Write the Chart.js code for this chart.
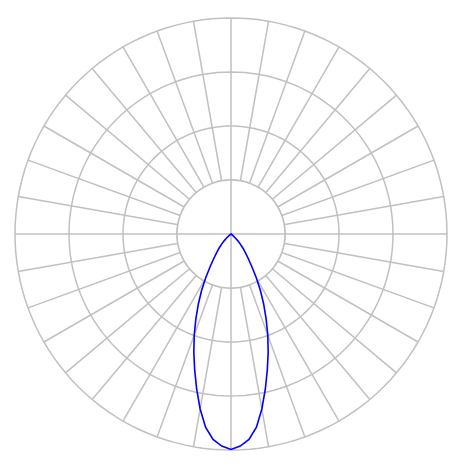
<!DOCTYPE html>
<html>
<head>
<meta charset="utf-8">
<script src="https://cdn.jsdelivr.net/npm/chart.js@4/dist/chart.umd.min.js"></script>
<style>
  html, body { margin: 0; padding: 0; background: #fff; }
  #wrap { width: 465px; height: 465px; }
</style>
</head>
<body>
<div id="wrap"><canvas id="ldc" width="465" height="465"></canvas></div>
<script>
// gamma angle, 0 = straight down, step 2.5 deg
var gamma = [0, 2.5, 5, 7.5, 10, 12.5, 15, 17.5, 20, 22.5, 25, 27.5, 30, 32.5, 35, 37.5, 40, 42.5, 45,
             47.5, 50, 52.5, 55, 57.5, 60, 62.5, 65, 67.5, 70, 72.5, 75, 77.5, 80, 82.5, 85, 87.5, 90];
// intensity (cd/klm)
var intensity = [399, 393, 382, 361, 329, 294, 260, 229, 199, 170, 143, 118, 94, 72, 56, 44, 35, 26, 18,
                 11, 6, 2, 0, 0, 0, 0, 0, 0, 0, 0, 0, 0, 0, 0, 0, 0, 0];
// ring values
var rings = [100, 200, 300, 400];

var step = 2.5;
var labels = [];
var curve = [];
var inner = [];
var cross = [];
for (var i = 0; i < 360 / step; i++) {
    var phi = i * step;              // clockwise from top
    var g = Math.abs(180 - phi);     // angle away from nadir
    var k = gamma.indexOf(g);
    labels.push(phi + '°');
    curve.push(k >= 0 ? intensity[k] : 0);
    inner.push(rings[0]);
    cross.push(phi % 90 === 0 ? rings[0] : 0);
}

var grey = '#c0c0c0';

new Chart(document.getElementById('ldc'), {
    type: 'radar',
    data: {
        labels: labels,
        datasets: [
            {
                label: 'C0-C180',
                data: curve,
                borderColor: '#0000ff',
                borderWidth: 1.6,
                backgroundColor: 'transparent',
                fill: false,
                pointRadius: 0,
                order: 0
            },
            {
                label: 'cross',
                data: cross,
                borderColor: grey,
                borderWidth: 1.5,
                backgroundColor: 'transparent',
                fill: false,
                pointRadius: 0,
                order: 1
            },
            {
                label: 'inner',
                data: inner,
                borderColor: grey,
                borderWidth: 1.5,
                backgroundColor: '#ffffff',
                fill: true,
                pointRadius: 0,
                order: 2
            }
        ]
    },
    options: {
        responsive: false,
        animation: false,
        layout: {
            padding: { left: 15, right: 18, top: 18, bottom: 15 }
        },
        plugins: {
            legend: { display: false },
            tooltip: { enabled: false }
        },
        elements: {
            line: { tension: 0 }
        },
        scales: {
            r: {
                min: 0,
                max: 400,
                ticks: { display: false, stepSize: 100 },
                pointLabels: { display: false },
                grid: { color: grey, lineWidth: 1.5, circular: false },
                angleLines: {
                    display: true,
                    lineWidth: 1.5,
                    color: function (ctx) {
                        return ctx.index % 4 === 0 ? grey : 'rgba(0,0,0,0)';
                    }
                }
            }
        }
    }
});
</script>
</body>
</html>
